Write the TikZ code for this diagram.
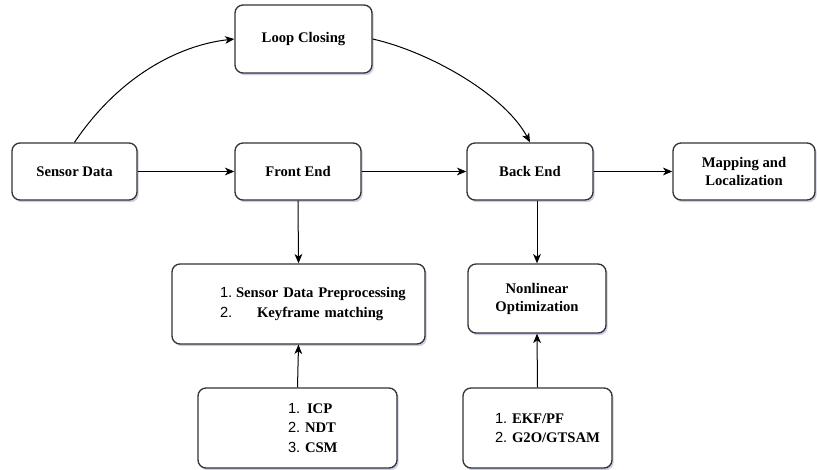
\documentclass[tikz,border=0pt]{standalone}
\usepackage{fontspec}
\setmainfont{Liberation Serif}
\newfontfamily\numfont{Liberation Sans}
\usetikzlibrary{arrows.meta,shadows}
\definecolor{boxline}{HTML}{333333}
\newcommand\numitem[2]{\makebox[#1][l]{\numfont\mdseries #2}}
\begin{document}
\begin{tikzpicture}[x=0.75pt,y=-0.75pt,
  box/.style={draw=boxline, line width=1pt, rounded corners=6pt, fill=white,
    drop shadow={shadow xshift=1.3pt, shadow yshift=-1.6pt, opacity=0.3, fill=blue!30!gray},
    font=\fontsize{11}{13.5}\selectfont\bfseries, align=center, inner sep=0pt},
  listbox/.style={box, align=left, font=\fontsize{11}{14.5}\selectfont\bfseries},
  arr/.style={-{Stealth[length=7pt,width=5.8pt,inset=2pt]}, line width=0.75pt, black}]
\useasboundingbox (0,0) rectangle (817,470);

\node[box, minimum width=93.75pt, minimum height=42.75pt] (sd) at (74.5,171.5) {Sensor Data};
\node[box, minimum width=102.75pt, minimum height=51pt] (lc) at (303.5,39) {Loop Closing};
\node[box, minimum width=94.5pt, minimum height=42.75pt] (fe) at (298,171.5) {Front End};
\node[box, minimum width=94.5pt, minimum height=42.75pt] (be) at (530,171.5) {Back End};
\node[box, minimum width=106.5pt, minimum height=42.75pt] (ml) at (744,171.5) {Mapping and\\Localization};

\node[listbox, minimum width=189.75pt, text width=189.75pt, minimum height=60pt] (pp) at (298.5,304)
  {\hspace*{36pt}\numitem{12pt}{1.}Sensor Data Preprocessing\\
   \hspace*{36pt}\numitem{27.75pt}{2.}Keyframe matching};
\node[listbox, minimum width=149.25pt, text width=149.25pt, minimum height=60pt] (icp) at (297.5,428)
  {\hspace*{67.5pt}\numitem{14.25pt}{1.}ICP\\
   \hspace*{67.5pt}\numitem{12.75pt}{2.}NDT\\
   \hspace*{67.5pt}\numitem{12.75pt}{3.}CSM};
\node[box, minimum width=103.5pt, minimum height=51.75pt] (no) at (537,298.5) {Nonlinear\\Optimization};
\node[listbox, minimum width=111.75pt, text width=111.75pt, minimum height=60pt] (ekf) at (537.5,428)
  {\hspace*{24pt}\numitem{12.75pt}{1.}EKF/PF\\
   \hspace*{24pt}\numitem{12.75pt}{2.}G2O/GTSAM};

\draw[arr] (sd.north) .. controls (120,75) and (180,45) .. (lc.west);
\draw[arr] (lc.east) .. controls (430,52) and (505,95) .. (be.north);
\draw[arr] (sd.east) -- (fe.west);
\draw[arr] (fe.east) -- (be.west);
\draw[arr] (be.east) -- (ml.west);
\draw[arr] (fe.south) -- (pp.north);
\draw[arr] (icp.north) -- (pp.south);
\draw[arr] (no.north |- be.south) -- (no.north);
\draw[arr] (ekf.north) -- (no.south);
\end{tikzpicture}
\end{document}
